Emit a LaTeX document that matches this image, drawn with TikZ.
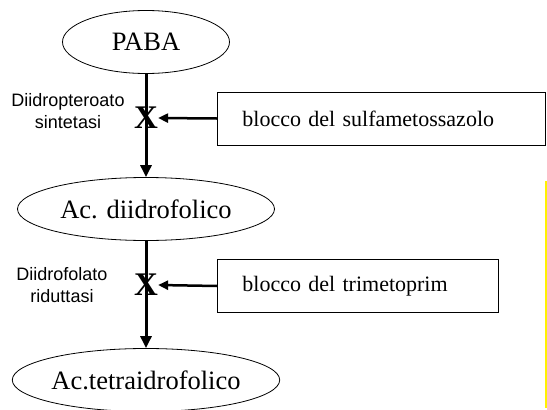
\documentclass[tikz,border=0pt]{standalone}
\usepackage{fontspec}
\setmainfont{Liberation Serif}
\newfontfamily\arialfont{Liberation Sans}
\usetikzlibrary{shapes.geometric,arrows.meta}

\tikzset{x=1pt, y=-1pt}

\begin{document}
\begin{tikzpicture}[
  stadio/.style={draw, ellipse, line width=0.8pt, inner sep=0pt, minimum height=63pt, font=\fontsize{26.5}{29}\selectfont},
  blocco/.style={draw, line width=0.8pt, anchor=west, align=left, inner xsep=25pt, minimum height=53pt, font=\fontsize{22}{25}\selectfont},
  enzima/.style={align=center, font=\arialfont\fontsize{18}{22}\selectfont},
  croce/.style={inner sep=0pt, font=\bfseries\fontsize{33}{34}\selectfont},
  via/.style={line width=3pt, -{Triangle[length=12pt,width=11pt]}},
  inibisce/.style={line width=2.5pt, -{Triangle[length=10pt,width=9pt]}}]
\useasboundingbox (0,0) rectangle (547,410);
% metaboliti
\node[stadio, minimum width=167pt] (paba) at (146,42) {PABA};
\node[stadio, minimum width=257pt] (diidro) at (146,209) {Ac. diidrofolico};
\node[stadio, minimum width=257pt] (tetra) at (146,380) {Ac.tetraidrofolico};
% enzimi
\node[enzima] (sintetasi) at (68,111) {Diidropteroato\\sintetasi};
\node[enzima] (riduttasi) at (62,285) {Diidrofolato\\riduttasi};
% farmaci
\node[blocco, text width=278pt] (sulfa) at (217,118.5) {blocco del sulfametossazolo};
\node[blocco, text width=231pt] (trime) at (217,286) {blocco del trimetoprim};
\draw[via] (paba) -- (diidro); % prima reazione
\draw[via] (diidro) -- (tetra); % seconda reazione
\node[croce] (x1) at (146,118) {X};
\node[croce] (x2) at (146,285) {X};
\draw[inibisce] (sulfa.west) -- (x1.east);
\draw[inibisce] (trime.west) -- (x2.east);
% bordo giallo
\draw[yellow, line width=2pt] (545.5,181) -- (545.5,408);
\end{tikzpicture}
\end{document}
